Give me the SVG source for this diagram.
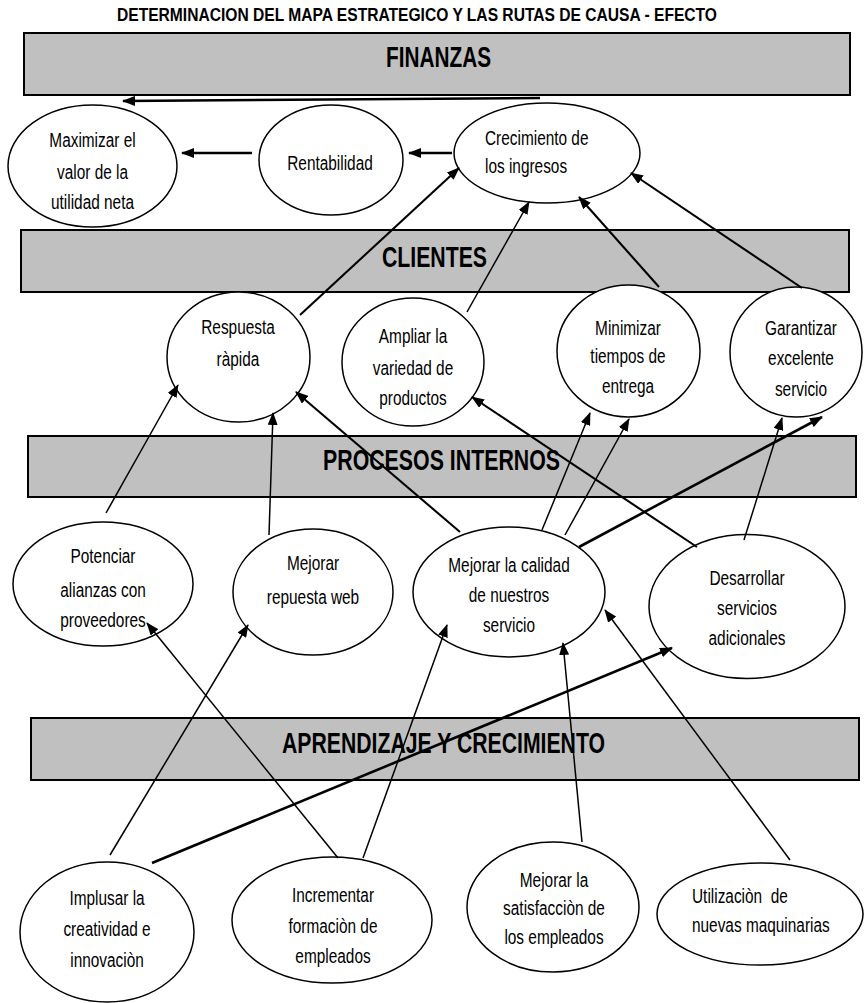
<svg xmlns="http://www.w3.org/2000/svg" width="865" height="1003" viewBox="0 0 865 1003">
<style>
.band{fill:#c0c0c0;stroke:#000;stroke-width:2}
.node ellipse{fill:#fff;stroke:#000;stroke-width:1.5}
.t{font-family:"Liberation Sans",Arial,sans-serif;font-size:20px;fill:#000;text-anchor:middle}
.tl{font-family:"Liberation Sans",Arial,sans-serif;font-size:20px;fill:#000;text-anchor:start}
.bl{font-family:"Liberation Sans",Arial,sans-serif;font-weight:bold;font-size:29px;fill:#000}
.ttl{font-family:"Liberation Sans",Arial,sans-serif;font-weight:bold;font-size:19px;fill:#000}
.c{stroke:#000;fill:none;stroke-width:1.5;marker-end:url(#ah)}
.k{stroke-width:2.6}
.m{stroke-width:2.1}
</style>
<defs>
<marker id="ah" markerUnits="userSpaceOnUse" markerWidth="13" markerHeight="10" refX="12" refY="5" orient="auto">
<path d="M0,0 L13,5 L0,10 z" fill="#000"/>
</marker>
</defs>
<rect width="865" height="1003" fill="#fff"/>
<text class="ttl" x="117" y="21" textLength="600" lengthAdjust="spacingAndGlyphs">DETERMINACION DEL MAPA ESTRATEGICO Y LAS RUTAS DE CAUSA - EFECTO</text>
<g id="band-finanzas">
<rect class="band" x="24" y="33" width="826" height="62"/>
<text class="bl" x="386" y="67" textLength="105" lengthAdjust="spacingAndGlyphs">FINANZAS</text>
</g>
<g id="band-clientes">
<rect class="band" x="21" y="230" width="828" height="62"/>
<text class="bl" x="382" y="267" textLength="105" lengthAdjust="spacingAndGlyphs">CLIENTES</text>
</g>
<g id="band-procesos">
<rect class="band" x="28" y="436" width="828" height="61"/>
<text class="bl" x="323" y="470" textLength="237" lengthAdjust="spacingAndGlyphs">PROCESOS INTERNOS</text>
</g>
<g id="band-aprendizaje">
<rect class="band" x="31" y="718" width="828" height="62"/>
<text class="bl" x="282" y="753" textLength="323" lengthAdjust="spacingAndGlyphs">APRENDIZAJE Y CRECIMIENTO</text>
</g>

<g id="n-maximizar" class="node">
<ellipse cx="92.5" cy="166" rx="84.5" ry="61"/>
<text class="t" transform="translate(92.5 0) scale(0.77 1)"><tspan x="0" y="147">Maximizar el</tspan><tspan x="0" y="179">valor de la</tspan><tspan x="0" y="209">utilidad neta</tspan></text>
</g>
<g id="n-rentabilidad" class="node">
<ellipse cx="331" cy="160" rx="72" ry="55"/>
<text class="t" transform="translate(330 0) scale(0.77 1)"><tspan x="0" y="170">Rentabilidad</tspan></text>
</g>
<g id="n-crecimiento" class="node">
<ellipse cx="547" cy="153" rx="93" ry="50"/>
<text class="tl" transform="translate(485 0) scale(0.77 1)"><tspan x="0" y="145">Crecimiento de</tspan><tspan x="0" y="173">los ingresos</tspan></text>
</g>
<g id="n-respuesta" class="node">
<ellipse cx="238.5" cy="357" rx="71.5" ry="65"/>
<text class="t" transform="translate(238 0) scale(0.77 1)"><tspan x="0" y="334">Respuesta</tspan><tspan x="0" y="366">ràpida</tspan></text>
</g>
<g id="n-ampliar" class="node">
<ellipse cx="413" cy="362" rx="71" ry="64"/>
<text class="t" transform="translate(413 0) scale(0.77 1)"><tspan x="0" y="343">Ampliar la</tspan><tspan x="0" y="375">variedad de</tspan><tspan x="0" y="405">productos</tspan></text>
</g>
<g id="n-minimizar" class="node">
<ellipse cx="628.5" cy="351" rx="71.5" ry="66"/>
<text class="t" transform="translate(628 0) scale(0.77 1)"><tspan x="0" y="335">Minimizar</tspan><tspan x="0" y="363">tiempos de</tspan><tspan x="0" y="393">entrega</tspan></text>
</g>
<g id="n-garantizar" class="node">
<ellipse cx="796" cy="352" rx="66" ry="65"/>
<text class="t" transform="translate(801 0) scale(0.77 1)"><tspan x="0" y="335">Garantizar</tspan><tspan x="0" y="365">excelente</tspan><tspan x="0" y="396">servicio</tspan></text>
</g>
<g id="n-potenciar" class="node">
<ellipse cx="103" cy="584" rx="90" ry="62"/>
<text class="t" transform="translate(103 0) scale(0.77 1)"><tspan x="0" y="563">Potenciar</tspan><tspan x="0" y="597">alianzas con</tspan><tspan x="0" y="627">proveedores</tspan></text>
</g>
<g id="n-web" class="node">
<ellipse cx="313" cy="592" rx="80" ry="63"/>
<text class="t" transform="translate(313 0) scale(0.77 1)"><tspan x="0" y="570">Mejorar</tspan><tspan x="0" y="604">repuesta web</tspan></text>
</g>
<g id="n-calidad" class="node">
<ellipse cx="509" cy="592" rx="96" ry="65"/>
<text class="t" transform="translate(509 0) scale(0.77 1)"><tspan x="0" y="572">Mejorar la calidad</tspan><tspan x="0" y="602">de nuestros</tspan><tspan x="0" y="632">servicio</tspan></text>
</g>
<g id="n-desarrollar" class="node">
<ellipse cx="747" cy="606.5" rx="98" ry="72"/>
<text class="t" transform="translate(747 0) scale(0.77 1)"><tspan x="0" y="585">Desarrollar</tspan><tspan x="0" y="615">servicios</tspan><tspan x="0" y="645">adicionales</tspan></text>
</g>
<g id="n-implusar" class="node">
<ellipse cx="107" cy="932" rx="87" ry="70"/>
<text class="t" transform="translate(107 0) scale(0.77 1)"><tspan x="0" y="905">Implusar la</tspan><tspan x="0" y="936">creatividad e</tspan><tspan x="0" y="967">innovaciòn</tspan></text>
</g>
<g id="n-incrementar" class="node">
<ellipse cx="332" cy="920" rx="100" ry="63"/>
<text class="t" transform="translate(333 0) scale(0.77 1)"><tspan x="0" y="902">Incrementar</tspan><tspan x="0" y="933">formaciòn de</tspan><tspan x="0" y="963">empleados</tspan></text>
</g>
<g id="n-satisfaccion" class="node">
<ellipse cx="553" cy="907" rx="86" ry="65"/>
<text class="t" transform="translate(554 0) scale(0.77 1)"><tspan x="0" y="887">Mejorar la</tspan><tspan x="0" y="915">satisfacciòn de</tspan><tspan x="0" y="944">los empleados</tspan></text>
</g>
<g id="n-utilizacion" class="node">
<ellipse cx="760" cy="914" rx="103" ry="51"/>
<text class="tl" xml:space="preserve" transform="translate(692 0) scale(0.77 1)"><tspan x="0" y="903">Utilizaciòn  de</tspan><tspan x="0" y="932">nuevas maquinarias</tspan></text>
</g>

<g id="connectors">
<line class="c k" x1="540" y1="98" x2="123" y2="101"/>
<line class="c k" x1="252" y1="153" x2="182" y2="153"/>
<line class="c k" x1="452" y1="153" x2="409" y2="153"/>
<line class="c m" x1="300" y1="315" x2="459" y2="168"/>
<line class="c" x1="467" y1="312" x2="529" y2="202"/>
<line class="c m" x1="659" y1="287" x2="579" y2="197"/>
<line class="c m" x1="802" y1="288" x2="631" y2="173"/>
<line class="c" x1="106" y1="513" x2="178" y2="385"/>
<line class="c" x1="269" y1="535" x2="273" y2="413"/>
<line class="c m" x1="460" y1="532" x2="296" y2="392"/>
<line class="c m" x1="697" y1="547" x2="472" y2="397"/>
<line class="c" x1="542" y1="530" x2="590" y2="413"/>
<line class="c" x1="565" y1="535" x2="629" y2="419"/>
<line class="c k" x1="579" y1="547" x2="822" y2="417"/>
<line class="c" x1="744" y1="540" x2="782" y2="418"/>
<line class="c" x1="338" y1="858" x2="147" y2="623"/>
<line class="c" x1="110" y1="855" x2="248" y2="625"/>
<line class="c k" x1="152" y1="863" x2="672" y2="648"/>
<line class="c" x1="363" y1="858" x2="447" y2="625"/>
<line class="c" x1="582" y1="842" x2="563" y2="643"/>
<line class="c" x1="790" y1="860" x2="605" y2="610"/>
</g>
</svg>
